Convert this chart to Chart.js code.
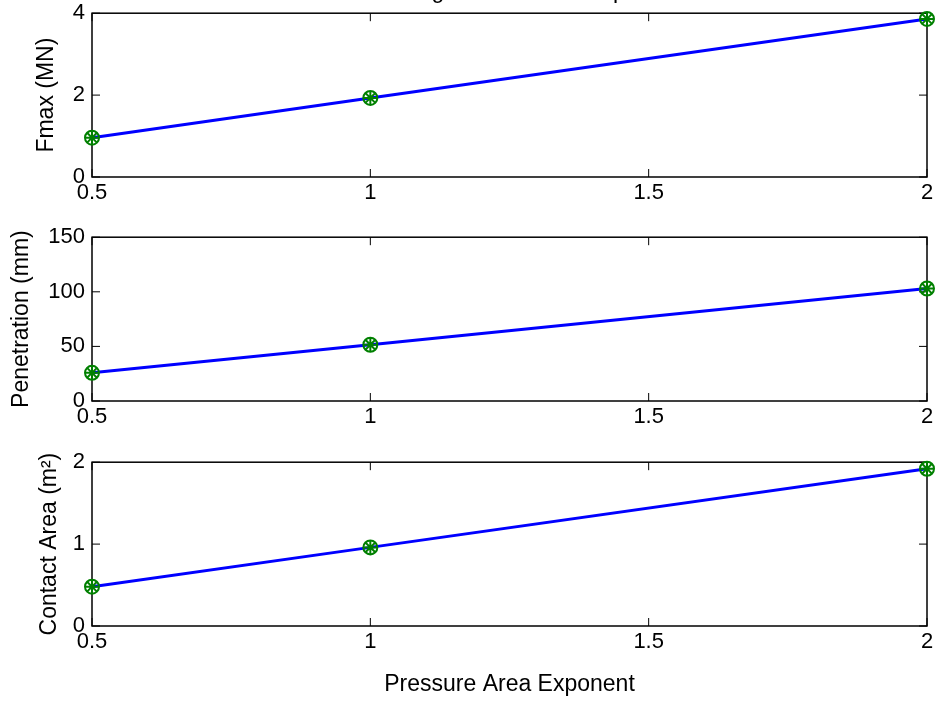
<!DOCTYPE html>
<html>
<head>
<meta charset="utf-8">
<script src="https://cdn.jsdelivr.net/npm/chart.js@4"></script>
<style>
  body { margin: 0; background: #fff; overflow: hidden; }
  .box { position: absolute; left: 0; width: 938px; }
</style>
</head>
<body>
<div class="box" style="top:-7px;height:231px"><canvas id="fmaxChart"></canvas></div>
<div class="box" style="top:217px;height:231px"><canvas id="penChart"></canvas></div>
<div class="box" style="top:442px;height:260px"><canvas id="areaChart"></canvas></div>
<script>
// pressure area exponent values
var exponents = [0.5, 1, 2];
var xTicks = [0.5, 1, 1.5, 2];

var fmaxValues = [0.96, 1.93, 3.86];          // MN
var penetrationValues = [25.8, 51.5, 103];    // mm
var areaValues = [0.48, 0.96, 1.92];          // m^2

var fmaxTicks = [0, 2, 4];
var penTicks = [0, 50, 100, 150];
var areaTicks = [0, 1, 2];

var FONT = "'Liberation Sans', Arial, sans-serif";

function pts(ys) {
    return exponents.map(function (x, i) { return { x: x, y: ys[i] }; });
}

// MATLAB style box with inward ticks
var boxPlugin = {
    id: 'box',
    beforeDatasetsDraw: function (chart) {
        var a = chart.chartArea, c = chart.ctx;
        var xs = chart.scales.x, ys = chart.scales.y;
        c.save();
        c.strokeStyle = '#000';
        c.lineWidth = 1.5;
        c.strokeRect(a.left, a.top, a.right - a.left, a.bottom - a.top);
        c.lineWidth = 1;
        c.beginPath();
        xs.ticks.forEach(function (t) {
            var px = xs.getPixelForValue(t.value);
            c.moveTo(px, a.bottom); c.lineTo(px, a.bottom - 8);
            c.moveTo(px, a.top); c.lineTo(px, a.top + 8);
        });
        ys.ticks.forEach(function (t) {
            var py = ys.getPixelForValue(t.value);
            c.moveTo(a.left, py); c.lineTo(a.left + 8, py);
            c.moveTo(a.right, py); c.lineTo(a.right - 8, py);
        });
        c.stroke();
        c.restore();
    }
};

// figure title sits above the top edge; only its descenders show
var titlePlugin = {
    id: 'figTitle',
    afterDraw: function (chart) {
        var c = chart.ctx;
        c.save();
        c.font = '23px ' + FONT;
        c.fillStyle = '#000';
        c.textAlign = 'center';
        c.textBaseline = 'alphabetic';
        c.fillText('Change in Pressure Exponent', 530, 5);
        c.restore();
    }
};

function plain(v) { return String(v); }

function makeChart(id, values, yTicks, yTitle, titlePad, xHeight, xTitle, extra) {
    var ctx = document.getElementById(id).getContext('2d');
    return new Chart(ctx, {
        type: 'scatter',
        data: {
            datasets: [{
                data: pts(values),
                pointStyle: 'circle',
                pointRadius: 7,
                borderColor: '#008000',
                backgroundColor: 'rgba(0,0,0,0)',
                borderWidth: 2,
                showLine: false,
                clip: false
            }, {
                data: pts(values),
                pointStyle: 'star',
                pointRadius: 7,
                borderColor: '#008000',
                backgroundColor: 'rgba(0,0,0,0)',
                borderWidth: 2,
                showLine: false,
                clip: false
            }, {
                data: pts(values),
                showLine: true,
                borderColor: '#0000ff',
                borderWidth: 3,
                pointRadius: 0,
                clip: false
            }]
        },
        options: {
            responsive: true,
            maintainAspectRatio: false,
            animation: false,
            events: [],
            layout: { padding: { top: 6, right: 11, left: 0, bottom: 0 } },
            plugins: { legend: { display: false }, tooltip: { enabled: false } },
            scales: {
                x: {
                    type: 'linear',
                    min: 0.5, max: 2,
                    afterBuildTicks: function (s) { s.ticks = xTicks.map(function (v) { return { value: v }; }); },
                    afterFit: function (s) { s.height = xHeight; },
                    grid: { display: false, drawTicks: false },
                    border: { display: false },
                    ticks: { color: '#000', font: { family: FONT, size: 22 }, padding: 3, maxRotation: 0, callback: plain },
                    title: { display: !!xTitle, text: xTitle || '', color: '#000', font: { family: FONT, size: 23 }, padding: { top: 9 } }
                },
                y: {
                    type: 'linear',
                    min: yTicks[0], max: yTicks[yTicks.length - 1],
                    afterBuildTicks: function (s) { s.ticks = yTicks.map(function (v) { return { value: v }; }); },
                    afterFit: function (s) { s.width = 92; },
                    grid: { display: false, drawTicks: false },
                    border: { display: false },
                    ticks: { color: '#000', font: { family: FONT, size: 22 }, padding: 7, callback: plain },
                    title: { display: true, text: yTitle, color: '#000', font: { family: FONT, size: 23 }, padding: { top: titlePad } }
                }
            }
        },
        plugins: [boxPlugin].concat(extra || [])
    });
}

makeChart('fmaxChart', fmaxValues, fmaxTicks, 'Fmax (MN)', 33, 47, null, [titlePlugin]);
makeChart('penChart', penetrationValues, penTicks, 'Penetration (mm)', 8, 47, null);
makeChart('areaChart', areaValues, areaTicks, 'Contact Area (m\u00B2)', 36, 76, 'Pressure Area Exponent');
</script>
</body>
</html>
